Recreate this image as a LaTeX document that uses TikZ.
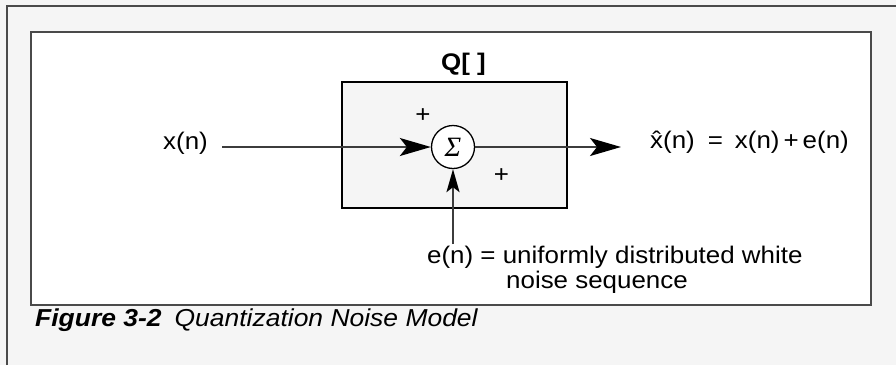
\documentclass[tikz,border=0pt]{standalone}
\usepackage{fontspec}
\setmainfont{Liberation Sans}[FakeStretch=1.08]
\newfontfamily\sigmafont{Liberation Serif}
\usetikzlibrary{arrows.meta}
\definecolor{panel}{HTML}{F5F5F5}
\definecolor{rulegray}{HTML}{4A4A4A}
\definecolor{wire}{HTML}{3C3C3C}
\tikzset{
  frameline/.style={draw=rulegray, line width=2pt},
  lbl/.style={font=\fontsize{24}{25}\selectfont, inner sep=0pt, anchor=base west},
  plus/.style={font=\fontsize{24}{24}\selectfont, inner sep=0pt},
  qbox/.style={draw=black, line width=1.3pt, fill=panel, minimum width=225pt, minimum height=126pt, inner sep=0pt},
  summer/.style={circle, draw=black, line width=1.3pt, fill=white, minimum size=43pt, inner sep=0pt},
  signal/.style={draw=wire, line width=1.8pt},
  bighead/.style={-{Stealth[length=31pt, width=18pt, inset=7pt, color=black, fill=black]}},
  smallhead/.style={-{Stealth[length=23pt, width=13pt, inset=5pt, color=black, fill=black]}},
}
\begin{document}
\begin{tikzpicture}[x=1pt, y=-1pt]
  \useasboundingbox (0,0) rectangle (896,365);
  % page background and outer frame
  \fill[panel] (0,0) rectangle (896,365);
  \draw[frameline] (7,365) -- (7,6) -- (896,6);
  % figure panel
  \node[frameline, fill=white, minimum width=840pt, minimum height=273pt, inner sep=0pt] (panel) at (451,168.5) {};
  % quantizer block
  \node[qbox] (q) at (454.5,145) {};
  \node[font=\fontsize{24}{24}\selectfont\bfseries, inner sep=0pt, anchor=base west] (qlabel) at (441,70) {Q[ ]};
  \node[summer] (sum) at (453,147) {\fontsize{28}{28}\selectfont\sigmafont\itshape Σ};
  \node[plus] (p1) at (423,116) {+};
  \node[plus] (p2) at (501.5,176) {+};
  % signals
  \node[lbl] (xin) at (163,149) {x(n)};
  \coordinate (xstart) at (222,147);
  \coordinate (xend) at (621,147);
  \coordinate (estart) at (453,244);
  \draw[signal, bighead] (xstart) -- (sum.west);
  \draw[signal, bighead] (sum.east) -- (xend);
  \draw[signal, smallhead] (estart) -- (sum.south);
  \node[lbl] (xout) at (650,148) {\^{x}(n)\hspace{13pt}=\hspace{12pt}x(n)\hspace{4pt}+\hspace{4pt}e(n)};
  \node[lbl] (noise1) at (427,263) {e(n) = uniformly distributed white};
  \node[lbl] (noise2) at (506,288) {noise sequence};
  % caption
  \node[lbl, font=\fontsize{24.5}{25}\selectfont\itshape] (caption) at (35,326) {{\bfseries Figure 3-2}\hspace{13pt}Quantization Noise Model};
\end{tikzpicture}
\end{document}
